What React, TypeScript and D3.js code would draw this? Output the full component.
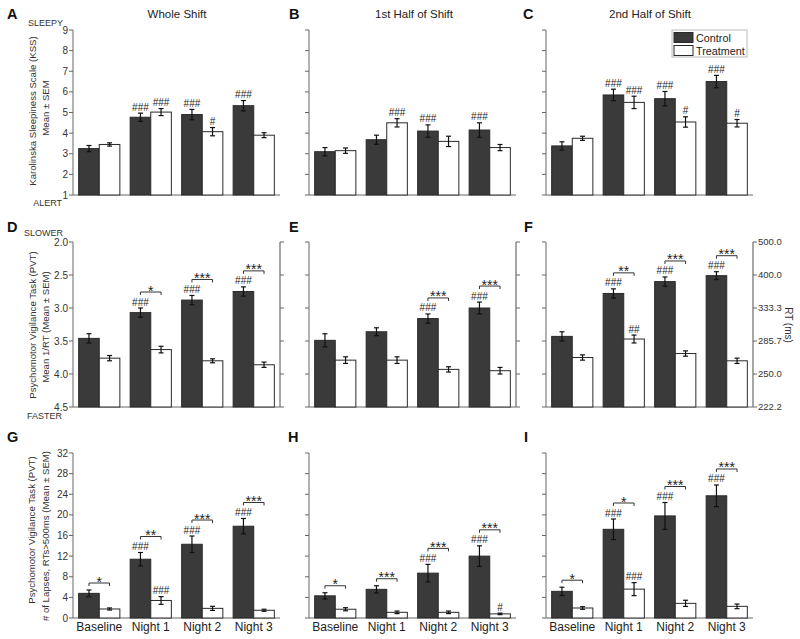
import React from "react";
import * as d3 from "d3";

const categories = ["Baseline", "Night 1", "Night 2", "Night 3"];
const columnTitles = ["Whole Shift", "1st Half of Shift", "2nd Half of Shift"];
const panelLetters = ["A", "B", "C", "D", "E", "F", "G", "H", "I"];

// Row 1: KSS
const kssWholeCtrl = [3.25, 4.77, 4.9, 5.33];
const kssWholeCtrlErr = [0.15, 0.2, 0.25, 0.25];
const kssWholeTreat = [3.45, 5.02, 4.07, 3.9];
const kssWholeTreatErr = [0.08, 0.17, 0.2, 0.12];
const kssFirstCtrl = [3.1, 3.68, 4.1, 4.15];
const kssFirstCtrlErr = [0.2, 0.22, 0.3, 0.35];
const kssFirstTreat = [3.15, 4.5, 3.6, 3.3];
const kssFirstTreatErr = [0.13, 0.2, 0.25, 0.15];
const kssSecondCtrl = [3.38, 5.85, 5.67, 6.5];
const kssSecondCtrlErr = [0.2, 0.28, 0.35, 0.3];
const kssSecondTreat = [3.75, 5.49, 4.54, 4.48];
const kssSecondTreatErr = [0.1, 0.3, 0.25, 0.18];

// Row 2: PVT mean 1/RT
const rtWholeCtrl = [3.46, 3.07, 2.88, 2.75];
const rtWholeCtrlErr = [0.07, 0.07, 0.07, 0.07];
const rtWholeTreat = [3.76, 3.63, 3.8, 3.86];
const rtWholeTreatErr = [0.04, 0.05, 0.03, 0.04];
const rtFirstCtrl = [3.49, 3.36, 3.16, 3.0];
const rtFirstCtrlErr = [0.1, 0.06, 0.07, 0.09];
const rtFirstTreat = [3.79, 3.79, 3.93, 3.95];
const rtFirstTreatErr = [0.05, 0.05, 0.04, 0.05];
const rtSecondCtrl = [3.43, 2.78, 2.6, 2.51];
const rtSecondCtrlErr = [0.07, 0.07, 0.07, 0.06];
const rtSecondTreat = [3.75, 3.47, 3.69, 3.8];
const rtSecondTreatErr = [0.04, 0.06, 0.04, 0.04];

// Row 3: PVT lapses
const lapWholeCtrl = [4.78, 11.4, 14.3, 17.8];
const lapWholeCtrlErr = [0.65, 1.3, 1.6, 1.5];
const lapWholeTreat = [1.75, 3.4, 1.87, 1.5];
const lapWholeTreatErr = [0.2, 0.75, 0.4, 0.2];
const lapFirstCtrl = [4.3, 5.56, 8.7, 12.0];
const lapFirstCtrlErr = [0.6, 0.7, 1.7, 2.0];
const lapFirstTreat = [1.7, 1.1, 1.1, 0.8];
const lapFirstTreatErr = [0.3, 0.25, 0.25, 0.15];
const lapSecondCtrl = [5.17, 17.2, 19.8, 23.7];
const lapSecondCtrlErr = [0.8, 2.0, 2.6, 2.1];
const lapSecondTreat = [1.94, 5.6, 2.84, 2.26];
const lapSecondTreatErr = [0.25, 1.26, 0.6, 0.45];

// Annotations
const kssWholeCtrlHash = ["", "###", "###", "###"];
const kssWholeTreatHash = ["", "###", "#", ""];
const kssFirstCtrlHash = ["", "", "###", "###"];
const kssFirstTreatHash = ["", "###", "", ""];
const kssSecondCtrlHash = ["", "###", "###", "###"];
const kssSecondTreatHash = ["", "###", "#", "#"];
const noStars = ["", "", "", ""];

const rtWholeCtrlHash = ["", "###", "###", "###"];
const rtWholeTreatHash = ["", "", "", ""];
const rtWholeStars = ["", "*", "***", "***"];
const rtFirstCtrlHash = ["", "", "###", "###"];
const rtFirstTreatHash = ["", "", "", ""];
const rtFirstStars = ["", "", "***", "***"];
const rtSecondCtrlHash = ["", "###", "###", "###"];
const rtSecondTreatHash = ["", "##", "", ""];
const rtSecondStars = ["", "**", "***", "***"];

const lapWholeCtrlHash = ["", "###", "###", "###"];
const lapWholeTreatHash = ["", "###", "", ""];
const lapWholeStars = ["*", "**", "***", "***"];
const lapFirstCtrlHash = ["", "", "###", "###"];
const lapFirstTreatHash = ["", "", "", "#"];
const lapFirstStars = ["*", "***", "***", "***"];
const lapSecondCtrlHash = ["", "###", "###", "###"];
const lapSecondTreatHash = ["", "###", "", ""];
const lapSecondStars = ["*", "*", "***", "***"];

const kssTicks = [1, 2, 3, 4, 5, 6, 7, 8, 9];
const rtTicks = [2.0, 2.5, 3.0, 3.5, 4.0, 4.5];
const rtRightLabels = ["500.0", "400.0", "333.3", "285.7", "250.0", "222.2"];
const lapTicks = [0, 4, 8, 12, 16, 20, 24, 28, 32];

const FONT = "'Liberation Sans', Arial, Helvetica, sans-serif";
const CTRL_FILL = "#3a3a3a";
const colX0 = [73, 309, 546];
const PW = 207;

const rows = [
  { domain: [1, 9], range: [195, 30], ticks: kssTicks, fmt: d3.format("d") },
  { domain: [2, 4.5], range: [242, 407], ticks: rtTicks, fmt: d3.format(".1f") },
  { domain: [0, 32], range: [618, 453], ticks: lapTicks, fmt: d3.format("d") },
];

const panelData = [
  [kssWholeCtrl, kssWholeCtrlErr, kssWholeTreat, kssWholeTreatErr, kssWholeCtrlHash, kssWholeTreatHash, noStars],
  [kssFirstCtrl, kssFirstCtrlErr, kssFirstTreat, kssFirstTreatErr, kssFirstCtrlHash, kssFirstTreatHash, noStars],
  [kssSecondCtrl, kssSecondCtrlErr, kssSecondTreat, kssSecondTreatErr, kssSecondCtrlHash, kssSecondTreatHash, noStars],
  [rtWholeCtrl, rtWholeCtrlErr, rtWholeTreat, rtWholeTreatErr, rtWholeCtrlHash, rtWholeTreatHash, rtWholeStars],
  [rtFirstCtrl, rtFirstCtrlErr, rtFirstTreat, rtFirstTreatErr, rtFirstCtrlHash, rtFirstTreatHash, rtFirstStars],
  [rtSecondCtrl, rtSecondCtrlErr, rtSecondTreat, rtSecondTreatErr, rtSecondCtrlHash, rtSecondTreatHash, rtSecondStars],
  [lapWholeCtrl, lapWholeCtrlErr, lapWholeTreat, lapWholeTreatErr, lapWholeCtrlHash, lapWholeTreatHash, lapWholeStars],
  [lapFirstCtrl, lapFirstCtrlErr, lapFirstTreat, lapFirstTreatErr, lapFirstCtrlHash, lapFirstTreatHash, lapFirstStars],
  [lapSecondCtrl, lapSecondCtrlErr, lapSecondTreat, lapSecondTreatErr, lapSecondCtrlHash, lapSecondTreatHash, lapSecondStars],
];

function Panel({ idx }: { idx: number }) {
  const row = Math.floor(idx / 3);
  const col = idx % 3;
  const cfg = rows[row];
  const x0 = colX0[col];
  const y = d3.scaleLinear().domain(cfg.domain).range(cfg.range);
  const bottom = Math.max(cfg.range[0], cfg.range[1]);
  const top = Math.min(cfg.range[0], cfg.range[1]);
  const xb = d3.scaleBand().domain(categories).range([x0, x0 + PW]).paddingInner(0.2).paddingOuter(0.11);
  const bw = xb.bandwidth() / 2;
  const [ctrl, ctrlErr, treat, treatErr, ctrlHash, treatHash, stars] = panelData[idx] as any[];

  const bar = (v: number, e: number, x: number, fill: string, key: string, hash: string) => {
    const yv = y(v);
    const ya = y(v - e);
    const yb = y(v + e);
    const et = Math.min(ya, yb);
    const eb = Math.max(ya, yb);
    const cx = x + bw / 2;
    return (
      <g key={key}>
        <rect x={x} y={Math.min(yv, bottom)} width={bw} height={Math.abs(bottom - yv)} fill={fill} stroke="#2a2a2a" strokeWidth={1} />
        <line x1={cx} x2={cx} y1={et} y2={eb} stroke="#111" strokeWidth={1.2} />
        <line x1={cx - 2.5} x2={cx + 2.5} y1={et} y2={et} stroke="#111" strokeWidth={1.2} />
        <line x1={cx - 2.5} x2={cx + 2.5} y1={eb} y2={eb} stroke="#111" strokeWidth={1.2} />
        {hash && (
          <text x={cx} y={et - 2.5} textAnchor="middle" fontSize={10} fill="#222" fontFamily={FONT}>{hash}</text>
        )}
      </g>
    );
  };

  return (
    <g>
      <line x1={x0} x2={x0} y1={top} y2={bottom} stroke="#666" strokeWidth={1} />
      <line x1={x0} x2={x0 + PW} y1={bottom} y2={bottom} stroke="#666" strokeWidth={1} />
      {cfg.ticks.map((t: number) => (
        <g key={"t" + t}>
          <line x1={x0 - 4} x2={x0} y1={y(t)} y2={y(t)} stroke="#666" />
          {col === 0 && (
            <text x={x0 - 5} y={y(t)} dy="0.35em" textAnchor="end" fontSize={10} fill="#333" fontFamily={FONT}>{cfg.fmt(t)}</text>
          )}
        </g>
      ))}
      {row === 1 && (
        <g>
          <line x1={x0 + PW} x2={x0 + PW} y1={top} y2={bottom} stroke="#888" strokeWidth={1.5} />
          {cfg.ticks.map((t: number, i: number) => (
            <g key={"r" + t}>
              <line x1={x0 + PW} x2={x0 + PW + 4} y1={y(t)} y2={y(t)} stroke="#666" />
              {col === 2 && (
                <text x={x0 + PW + 5} y={y(t)} dy="0.35em" textAnchor="start" fontSize={9.5} fill="#333" fontFamily={FONT}>{rtRightLabels[i]}</text>
              )}
            </g>
          ))}
        </g>
      )}
      {categories.map((c, i) => {
        const bx = xb(c) as number;
        const tC = Math.min(y(ctrl[i] - ctrlErr[i]), y(ctrl[i] + ctrlErr[i]));
        const tT = Math.min(y(treat[i] - treatErr[i]), y(treat[i] + treatErr[i]));
        const hasHash = ctrlHash[i] !== "" || treatHash[i] !== "";
        const by = Math.min(tC, tT) - (hasHash ? 16 : 7);
        const c1 = bx + bw / 2;
        const c2 = bx + bw * 1.5;
        return (
          <g key={c}>
            {bar(ctrl[i], ctrlErr[i], bx, CTRL_FILL, "c", ctrlHash[i])}
            {bar(treat[i], treatErr[i], bx + bw, "#ffffff", "t", treatHash[i])}
            {stars[i] && (
              <g>
                <path d={`M${c1},${by + 3}V${by}H${c2}V${by + 3}`} fill="none" stroke="#333" strokeWidth={1} />
                <text x={(c1 + c2) / 2} y={by + 3.5} textAnchor="middle" fontSize={14} fill="#222" fontFamily={FONT}>{stars[i]}</text>
              </g>
            )}
            {row === 2 && (
              <text x={bx + bw} y={631} textAnchor="middle" fontSize={12} fill="#222" fontFamily={FONT}>{c}</text>
            )}
          </g>
        );
      })}
    </g>
  );
}

const letterPos = [
  [7, 19], [289, 19], [523, 19],
  [7, 232], [289, 232], [524, 232],
  [7, 442], [288, 442], [524, 442],
];

export default function App() {
  return (
    <svg width={800} height={639} style={{ position: "absolute", left: 0, top: 0, background: "#fff" }} fontFamily={FONT}>
      <rect width={800} height={639} fill="#fff" />
      {panelLetters.map((l, i) => (
        <text key={l} x={letterPos[i][0]} y={letterPos[i][1]} fontSize={14.5} fontWeight="bold" fill="#111">{l}</text>
      ))}
      {columnTitles.map((t, i) => (
        <text key={t} x={[177, 414, 650][i]} y={18} textAnchor="middle" fontSize={11.5} fill="#222">{t}</text>
      ))}
      {panelLetters.map((_, i) => <Panel key={i} idx={i} />)}

      <text x={63} y={26} textAnchor="end" fontSize={9} fill="#333">SLEEPY</text>
      <text x={62} y={206} textAnchor="end" fontSize={9} fill="#333">ALERT</text>
      <text x={63} y={236} textAnchor="end" fontSize={9} fill="#333">SLOWER</text>
      <text x={62} y={419} textAnchor="end" fontSize={9} fill="#333">FASTER</text>

      <text transform="translate(33,111) rotate(-90)" textAnchor="middle" dominantBaseline="middle" fontSize={9.6} fill="#333">Karolinska Sleepiness Scale (KSS)</text>
      <text transform="translate(46,108) rotate(-90)" textAnchor="middle" dominantBaseline="middle" fontSize={9.6} fill="#333">Mean ± SEM</text>
      <text transform="translate(33,325) rotate(-90)" textAnchor="middle" dominantBaseline="middle" fontSize={9.6} fill="#333">Psychomotor Vigilance Task (PVT)</text>
      <text transform="translate(46,327) rotate(-90)" textAnchor="middle" dominantBaseline="middle" fontSize={9.6} fill="#333">Mean 1/RT (Mean ± SEM)</text>
      <text transform="translate(32,530) rotate(-90)" textAnchor="middle" dominantBaseline="middle" fontSize={9.6} fill="#333">Psychomotor Vigilance Task (PVT)</text>
      <text transform="translate(46,536) rotate(-90)" textAnchor="middle" dominantBaseline="middle" fontSize={9.6} fill="#333">{"# of Lapses, RTs>500ms (Mean ± SEM)"}</text>
      <text transform="translate(788,325) rotate(90)" textAnchor="middle" dominantBaseline="middle" fontSize={10} fill="#333">RT (ms)</text>

      <g>
        <rect x={672} y={30} width={75} height={27} fill="#fff" stroke="#bbb" strokeWidth={1} />
        <rect x={674} y={32.5} width={19} height={10} fill={CTRL_FILL} stroke="#2a2a2a" />
        <rect x={674} y={45.5} width={19} height={10} fill="#fff" stroke="#2a2a2a" />
        <text x={696} y={41.5} fontSize={10.8} fill="#222">Control</text>
        <text x={696} y={54.5} fontSize={10.8} fill="#222">Treatment</text>
      </g>
    </svg>
  );
}
